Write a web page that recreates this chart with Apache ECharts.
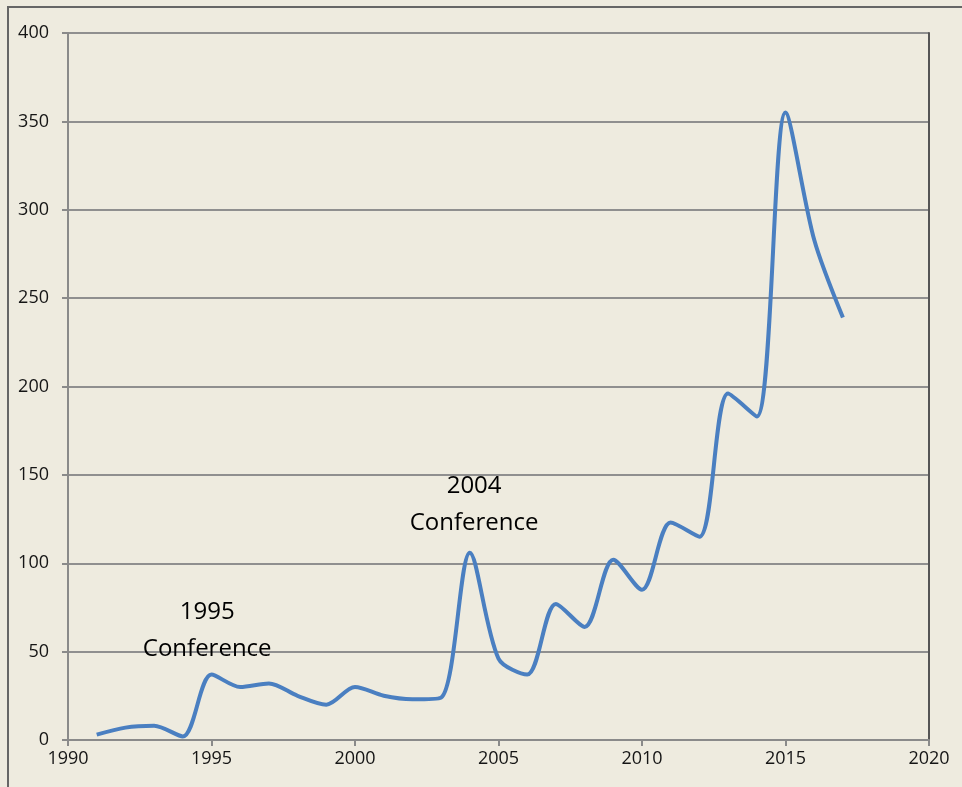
<!DOCTYPE html>
<html>
<head>
<meta charset="utf-8">
<script src="https://cdn.jsdelivr.net/npm/echarts@6/dist/echarts.min.js"></script>
<style>
  html, body { margin: 0; padding: 0; background: #eeebdf; }
  #chart { width: 962px; height: 787px; }
</style>
</head>
<body>
<div id="chart"></div>
<script>
// years and counts
var years = [1991, 1992, 1993, 1994, 1995, 1996, 1997, 1998, 1999, 2000, 2001, 2002, 2003, 2004, 2005, 2006, 2007, 2008, 2009, 2010, 2011, 2012, 2013, 2014, 2015, 2016, 2017]
var counts = [3, 7, 8, 2, 37, 30, 32, 25, 20, 30, 25, 23, 24, 106, 46, 37, 77, 64, 102, 85, 123, 115, 196, 183, 355, 283, 239]
var xTicks = [1990, 1995, 2000, 2005, 2010, 2015, 2020]
var yTicks = [0, 50, 100, 150, 200, 250, 300, 350, 400]
var notes = [
  { text: '1995\nConference', at: [1994.85, 62] },
  { text: '2004\nConference', at: [2004.15, 133] }
]

var chart = echarts.init(document.getElementById('chart'))
var labelFont = { color: '#151515', fontSize: 18, fontFamily: 'Open Sans' }

chart.setOption({
  backgroundColor: '#eeebdf',
  animation: false,
  grid: { left: 68, right: 33, top: 33, bottom: 47 },
  graphic: [
    {
      // outer frame of the original picture
      type: 'polyline',
      shape: { points: [[8, 787], [8, 7], [962, 7]] },
      style: { stroke: '#666', lineWidth: 2, fill: null }
    }
  ],
  xAxis: {
    type: 'value',
    min: xTicks[0],
    max: xTicks[xTicks.length - 1],
    interval: 5,
    axisLine: { show: true, lineStyle: { color: '#8a8a8a', width: 2 } },
    axisTick: { show: true, length: 6, lineStyle: { color: '#8a8a8a', width: 2 } },
    axisLabel: Object.assign({ margin: 10, formatter: function (v) { return String(v) } }, labelFont),
    splitLine: { show: false }
  },
  yAxis: [
    {
      type: 'value',
      min: yTicks[0],
      max: yTicks[yTicks.length - 1],
      interval: 50,
      axisLine: { show: true, lineStyle: { color: '#8a8a8a', width: 2 } },
      axisTick: { show: true, length: 6, lineStyle: { color: '#8a8a8a', width: 2 } },
      axisLabel: Object.assign({ margin: 19 }, labelFont),
      splitLine: { show: true, lineStyle: { color: '#8f8f8f', width: 2 } }
    },
    {
      type: 'value',
      position: 'right',
      min: yTicks[0],
      max: yTicks[yTicks.length - 1],
      interval: 50,
      axisLine: { show: true, lineStyle: { color: '#555', width: 2 } },
      axisTick: { show: false },
      axisLabel: { show: false },
      splitLine: { show: false }
    }
  ],
  series: [
    {
      type: 'line',
      data: years.map(function (y, i) { return [y, counts[i]] }),
      smooth: 0.3,
      showSymbol: false,
      lineStyle: { color: '#4a7fc1', width: 4 },
      markPoint: {
        symbol: 'circle',
        symbolSize: 1,
        itemStyle: { color: 'rgba(0,0,0,0)' },
        data: notes.map(function (n) {
          return {
            coord: n.at,
            value: n.text,
            label: {
              show: true,
              position: 'inside',
              formatter: n.text,
              color: '#000',
              fontSize: 24,
              lineHeight: 37,
              fontFamily: 'Open Sans',
              align: 'center',
              verticalAlign: 'middle'
            }
          }
        })
      }
    }
  ]
})
</script>
</body>
</html>
